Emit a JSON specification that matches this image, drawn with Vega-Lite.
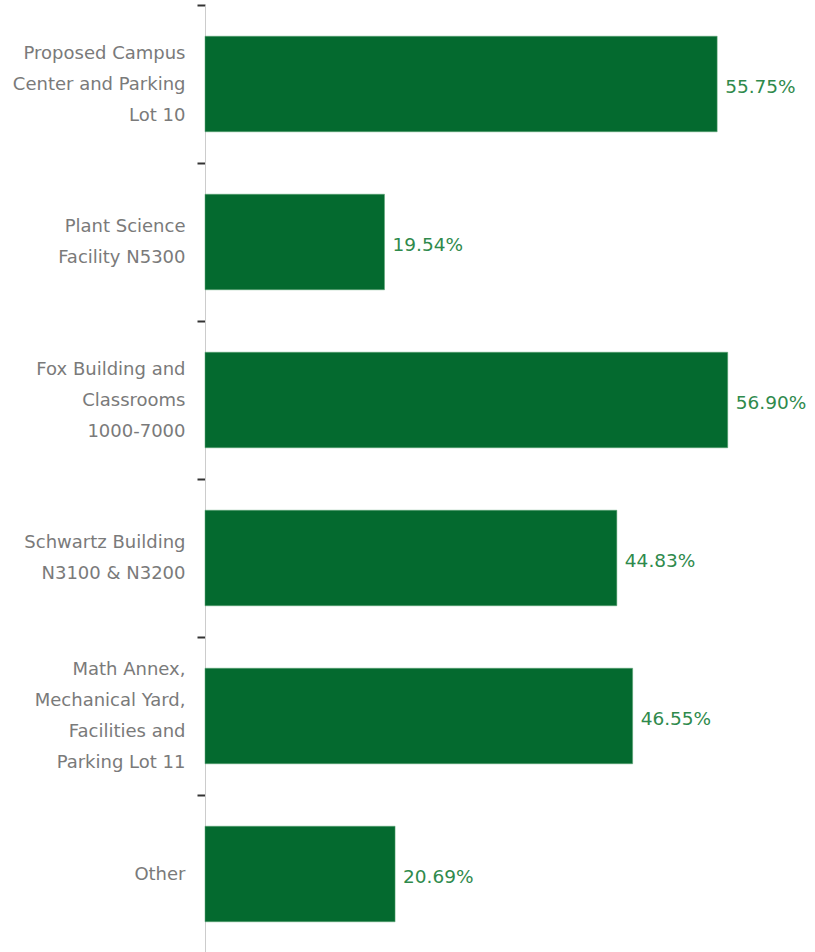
{
  "$schema": "https://vega.github.io/schema/vega-lite/v6.json",
  "width": 610,
  "height": 948,
  "autosize": {"type": "none"},
  "padding": {"left": 205, "top": 5, "right": 0, "bottom": 0},
  "background": "white",
  "data": {
    "values": [
      {"site": "Proposed Campus|Center and Parking|Lot 10", "pct": 55.75, "label": "55.75%"},
      {"site": "Plant Science|Facility N5300", "pct": 19.54, "label": "19.54%"},
      {"site": "Fox Building and|Classrooms|1000-7000", "pct": 56.90, "label": "56.90%"},
      {"site": "Schwartz Building|N3100 & N3200", "pct": 44.83, "label": "44.83%"},
      {"site": "Math Annex,|Mechanical Yard,|Facilities and|Parking Lot 11", "pct": 46.55, "label": "46.55%"},
      {"site": "Other", "pct": 20.69, "label": "20.69%"}
    ]
  },
  "encoding": {
    "y": {
      "field": "site",
      "type": "nominal",
      "sort": null,
      "scale": {"paddingInner": 0, "paddingOuter": 0},
      "axis": {
        "title": null,
        "labelExpr": "split(datum.label, '|')",
        "labelOffset": {"expr": "-(length(split(datum.label, '|')) - 1) * 15.5"},
        "labelFont": "DejaVu Sans",
        "labelFontSize": 18,
        "labelColor": "#7a7a7a",
        "labelLineHeight": 31,
        "labelPadding": 12,
        "labelLimit": 0,
        "tickBand": "extent",
        "tickSize": 8,
        "tickColor": "#333333",
        "tickWidth": 2,
        "domainColor": "#cccccc",
        "domainWidth": 1,
        "grid": false
      }
    },
    "x": {
      "field": "pct",
      "type": "quantitative",
      "scale": {"domain": [0, 66.4], "nice": false},
      "axis": null
    }
  },
  "layer": [
    {
      "mark": {"type": "bar", "color": "#046A2F", "stroke": "#5fa777", "strokeWidth": 0.5, "height": {"band": 0.605}}
    },
    {
      "mark": {"type": "text", "align": "left", "baseline": "middle", "dx": 8, "dy": 3, "font": "DejaVu Sans", "fontSize": 18.5, "color": "#2f8a4c"},
      "encoding": {"text": {"field": "label"}}
    }
  ],
  "config": {"view": {"stroke": null}}
}
